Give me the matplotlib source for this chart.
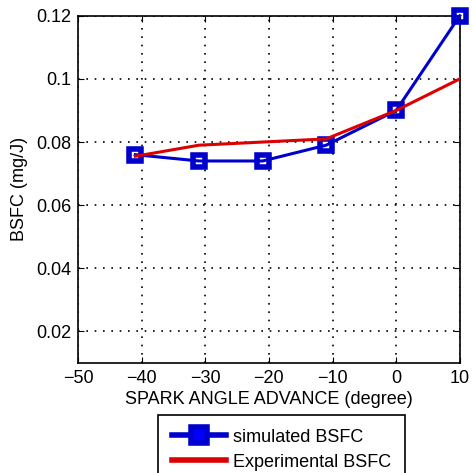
import matplotlib
matplotlib.use("Agg")
import matplotlib.pyplot as plt

# spark angle advance (degree)
angle = [-41, -31, -21, -11, 0, 10]
# BSFC (mg/J)
bsfc_sim = [0.076, 0.074, 0.074, 0.079, 0.090, 0.120]
bsfc_exp = [0.0755, 0.079, 0.080, 0.081, 0.090, 0.100]

x_ticks = [-50, -40, -30, -20, -10, 0, 10]
y_ticks = [0.02, 0.04, 0.06, 0.08, 0.1, 0.12]

plt.rcParams['font.family'] = ['Liberation Sans', 'DejaVu Sans']
plt.rcParams['font.size'] = 13

fig = plt.figure(figsize=(4.73, 4.73), dpi=100)
ax = fig.add_axes([0.165, 0.2326, 0.807, 0.734])

ax.plot(angle, bsfc_sim, color='#0000cc', lw=2.2, marker='s', ms=9,
        mfc='none', mec='#0000cc', mew=4, label='simulated BSFC', zorder=3,
        clip_on=False)
ax.plot(angle, bsfc_exp, color='#dd0000', lw=2.2, label='Experimental BSFC', zorder=4)

ax.set_xlim(-50, 10)
ax.set_ylim(0.01, 0.12)
ax.set_xticks(x_ticks)
ax.set_yticks(y_ticks)
ax.set_yticklabels(['0.02', '0.04', '0.06', '0.08', '0.1', '0.12'])
ax.grid(True, color='black', linestyle=(0, (1, 4)), linewidth=1.2)
ax.tick_params(direction='in', length=4, top=True, right=True, pad=5)
for s in ax.spines.values():
    s.set_linewidth(1.2)

ax.set_xlabel('SPARK ANGLE ADVANCE (degree)', labelpad=3)
ax.set_ylabel('BSFC (mg/J)', labelpad=6)

leg = ax.legend(loc='upper center', bbox_to_anchor=(0.533, -0.15), fancybox=False,
                edgecolor='black', framealpha=1, handlelength=3.0, borderpad=0.75,
                labelspacing=0.45, handletextpad=0.4, borderaxespad=0)
leg.get_frame().set_linewidth(1.2)
for h in leg.legend_handles:
    h.set_linewidth(4)
leg.legend_handles[0].set_markerfacecolor('#0000ff')
leg.legend_handles[0].set_markersize(11)

fig.savefig('out.png', dpi=100)
